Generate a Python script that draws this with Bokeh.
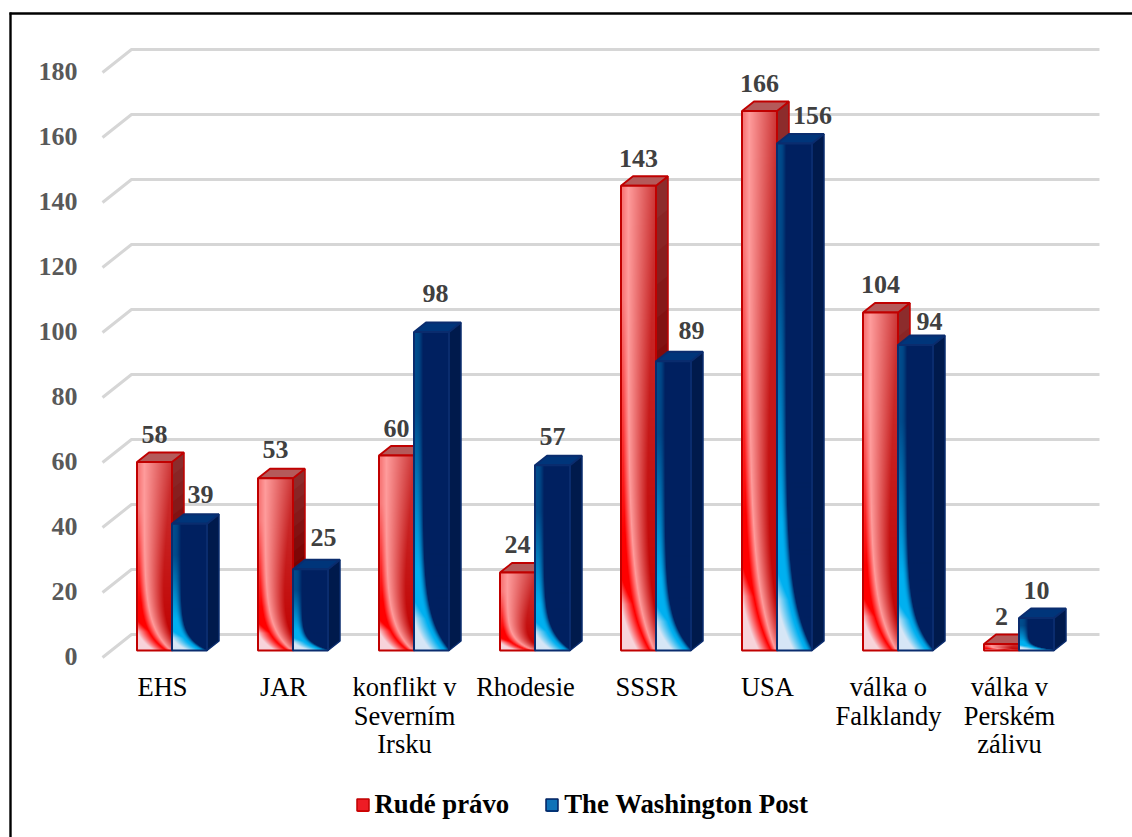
import numpy as np
from bokeh.plotting import figure
from bokeh.models import (ColumnDataSource, FixedTicker, Legend, LegendItem, LinearAxis, Range1d)
from bokeh.core.properties import value
from bokeh.embed import file_html
from bokeh.resources import INLINE

# ---- data ----
categories = [["EHS"], ["JAR"], ["konflikt v", "Severním", "Irsku"], ["Rhodesie"], ["SSSR"], ["USA"],
              ["válka o", "Falklandy"], ["válka v", "Perském", "zálivu"]]
rude_pravo = [58, 53, 60, 24, 143, 166, 104, 2]
washington_post = [39, 25, 98, 57, 89, 156, 94, 10]
y_ticks = [0, 20, 40, 60, 80, 100, 120, 140, 160, 180]
series_names = ["Rudé právo", "The Washington Post"]

# ---- label nudges (px) ----
blue_label_dx = [11, 13, 4, 0, 18, 18, 14, 0]
blue_label_dy = [29, 32, 39, 29, 31, 28, 24, 28]
red_label_dy = [28, 29, 27, 28, 27, 28, 28, 28]

# ---- scale ----
PX_CAT, PX_UNIT, X0, Y0 = 121.0, 3.25, 171.5, 650.0
FW, FH = 1132, 837
def dx(px): return (px - X0) / PX_CAT
def dy(py): return (Y0 - py) / PX_UNIT
BW, DX, DY = 35 / PX_CAT, 12 / PX_CAT, 9.5 / PX_UNIT
SERIF = "Liberation Serif"

p = figure(width=FW, height=FH, output_backend="svg", toolbar_location=None,
           x_range=Range1d(dx(0), dx(FW)), y_range=Range1d(dy(FH), dy(0)),
           x_axis_location=None, y_axis_location=None, min_border=0,
           outline_line_color=None, background_fill_color="white")
p.xgrid.visible = False
p.ygrid.visible = False

# extra ranges: labels sit on the chart's front edge, not the bars' plane
p.extra_y_ranges = {"lab": Range1d(dy(FH) + 6 / PX_UNIT, dy(0) + 6 / PX_UNIT)}
p.extra_x_ranges = {"lab": Range1d(dx(0) + 9.5 / PX_CAT, dx(FW) + 9.5 / PX_CAT)}

yax = LinearAxis(y_range_name="lab", ticker=FixedTicker(ticks=y_ticks),
                 axis_line_color=None, major_tick_line_color=None, minor_tick_line_color=None,
                 major_label_text_font=SERIF, major_label_text_font_style="bold",
                 major_label_text_font_size="26px", major_label_text_color="#595959",
                 major_label_standoff=0, fixed_location=dx(83))
p.add_layout(yax, "left")
ticks = list(range(len(categories)))
for line_no, py in enumerate((665.5, 694, 722.5)):
    over = {i: (c[line_no] if line_no < len(c) else "") for i, c in enumerate(categories)}
    xax = LinearAxis(x_range_name="lab", ticker=FixedTicker(ticks=ticks), major_label_overrides=over,
                     axis_line_color=None, major_tick_line_color=None, minor_tick_line_color=None,
                     major_label_text_font=SERIF, major_label_text_font_size="26.5px",
                     major_label_text_color="black", major_label_standoff=0, fixed_location=dy(py))
    p.add_layout(xax, "below")

# frame lines at the top and left of the page
p.segment(x0=[dx(9), dx(10)], y0=[dy(13), dy(12)], x1=[dx(FW), dx(10)], y1=[dy(13), dy(FH)],
          line_color="black", line_width=2.4)

# gridlines: front edge -> back edge -> right end
xs, ys = [], []
for t in y_ticks:
    xs.append([dx(102), dx(131), dx(1099)])
    ys.append([t - 7 / PX_UNIT, t + 16 / PX_UNIT, t + 16 / PX_UNIT])
p.multi_line(xs, ys, line_color="#d6d6d6", line_width=3, line_join="round")

def hexc(s):
    return np.array([int(s[i:i + 2], 16) for i in (1, 3, 5)], float)
def lerp(a, b, t):
    t = np.clip(t, 0, 1)[..., None]
    return a * (1 - t) + b * t
def to_rgba(c):
    c = c.astype(np.uint32)
    return (255 << 24) | (c[..., 2] << 16) | (c[..., 1] << 8) | c[..., 0]

def front_texture(h_px, kind):
    """Glossy face of a bar: rows run from the bottom up."""
    w, h = 70, max(int(round(h_px * 2)), 2)
    u = (np.arange(w) + .5) / w
    v = (np.arange(h) + .5) / h
    U, V = np.meshgrid(u, v)
    u1 = 0.05 + 0.77 * np.exp(-V / 0.1)
    if kind == "red":
        pale, a0, a1, st, r0, r1 = map(hexc, ("#f7d3da", "#ff0000", "#f87878", "#ff9c9c", "#c00000", "#cc3636"))
        u2 = 0.2 + 0.75 * np.exp(-V / 0.13)
        rw = 0.35 + 0.45 * V
        mt = (U - u1) / np.maximum(u2 - u1, 1e-3)
    else:
        pale, a0, a1, st, r0, r1 = map(hexc, ("#d6e6f6", "#00b0f0", "#004c8c", "#002060", "#002060", "#002060"))
        u2 = u1 + 0.2
        rw = 0.3 + 0 * V
        mt = ((U - u1) / np.maximum(u2 - u1, 1e-3)) ** 2
    arc = lerp(a0, a1, (V - 0.25) / 0.5)
    right = lerp(r0, r1, V)
    left_part = lerp(pale, arc, (U - (u1 - 0.35)) / 0.35 + np.clip((V - 0.1) / 0.1, 0, 1))
    mid = lerp(arc, st, mt)
    rpart = lerp(st, right, (U - u2) / rw)
    c = np.where((U < u1)[..., None], left_part, np.where((U < u2)[..., None], mid, rpart))
    return to_rgba(c)

def bar(val, x0, kind):
    x1 = x0 + BW
    if kind == "red":
        line, top_fill = "#c00000", "#b45a5a"
        side_a, side_b = "#8c2c2c", "#7c0000"
    else:
        line, top_fill = "#0a2c6e", "#00357a"
        side_a, side_b = "#001a4c", "#001a4c"
    # side face, shaded from the top down
    n = 14 if kind == "red" else 1
    a, b = hexc(side_a), hexc(side_b)
    sx, sy, cols = [], [], []
    for k in range(n):
        hi = val * (1 - k / n)
        sx.append([x1, x1 + DX, x1 + DX, x1])
        sy.append([0, DY, hi + DY, hi])
        cc = lerp(a, b, np.array(min(k / (n * .5), 1.0))).astype(int)
        cols.append("#%02x%02x%02x" % tuple(cc))
    p.patches(sx, sy, fill_color=cols, line_color=None)
    # outline of the side and the top
    p.patch([x1, x1 + DX, x1 + DX, x1], [0, DY, val + DY, val], fill_alpha=0, line_color=line, line_width=1.5)
    p.patch([x0, x0 + DX, x1 + DX, x1], [val, val + DY, val + DY, val],
            fill_color=top_fill, line_color=line, line_width=1.8)
    # front
    p.image_rgba(image=[front_texture(val * PX_UNIT, kind)], x=x0, y=0, dw=BW, dh=val)
    p.quad(left=x0, right=x1, bottom=0, top=val, fill_alpha=0, line_color=line, line_width=2)

for i, (r, b) in enumerate(zip(rude_pravo, washington_post)):
    bar(r, i - BW, "red")
    bar(b, i, "blue")

# value labels
idx = np.arange(len(categories))
for vals, xc, ldx, ldy in ((rude_pravo, idx - BW / 2, [0] * 8, red_label_dy),
                           (washington_post, idx + BW / 2, blue_label_dx, blue_label_dy)):
    src = ColumnDataSource(dict(x=xc, y=vals, t=[str(v) for v in vals], dx=ldx, dy=[-d for d in ldy]))
    p.text("x", "y", text="t", source=src, x_offset="dx", y_offset="dy", text_font=value(SERIF),
           text_font_style="bold", text_font_size="26px", text_color="#404040",
           text_align="center", text_baseline="middle")

# legend: the key renderers sit off to the side of the view
far = dx(FW) + 5
r1 = p.quad(left=[far], right=[far + 1], bottom=[0], top=[1], fill_color="#ee1c25", line_color="#c00000", line_width=1.5)
r2 = p.quad(left=[far], right=[far + 1], bottom=[0], top=[1], fill_color="#0f72b8", line_color="#002060", line_width=1.5)
leg = Legend(items=[LegendItem(label=series_names[0], renderers=[r1]),
                    LegendItem(label=series_names[1], renderers=[r2])],
             orientation="horizontal", location=(354.5, FH - 820),
             background_fill_alpha=0, border_line_color=None, padding=0, margin=0,
             glyph_width=15, glyph_height=15, label_standoff=5, spacing=35,
             label_text_font=SERIF, label_text_font_style="bold", label_text_font_size="26.8px",
             label_text_color="black")
p.add_layout(leg, "center")

# gloss on the keys: lighter at the top left
def key_gloss(c_light, c_main):
    n = 12
    g = (np.arange(n) + .5) / n
    X, Y = np.meshgrid(g, g)          # rows run from the bottom up
    return to_rgba(lerp(hexc(c_light), hexc(c_main), (X + (1 - Y)) / 1.1))
for sx0, light, main in ((357, "#f09090", "#ff0000"), (546.5, "#58a8dc", "#0a6cb4")):
    p.image_rgba(image=[key_gloss(light, main)], x=dx(sx0), y=dy(811.5), dw=11 / PX_CAT, dh=12 / PX_UNIT,
                 level="overlay")

open("out.html", "w").write(file_html(p, INLINE))
